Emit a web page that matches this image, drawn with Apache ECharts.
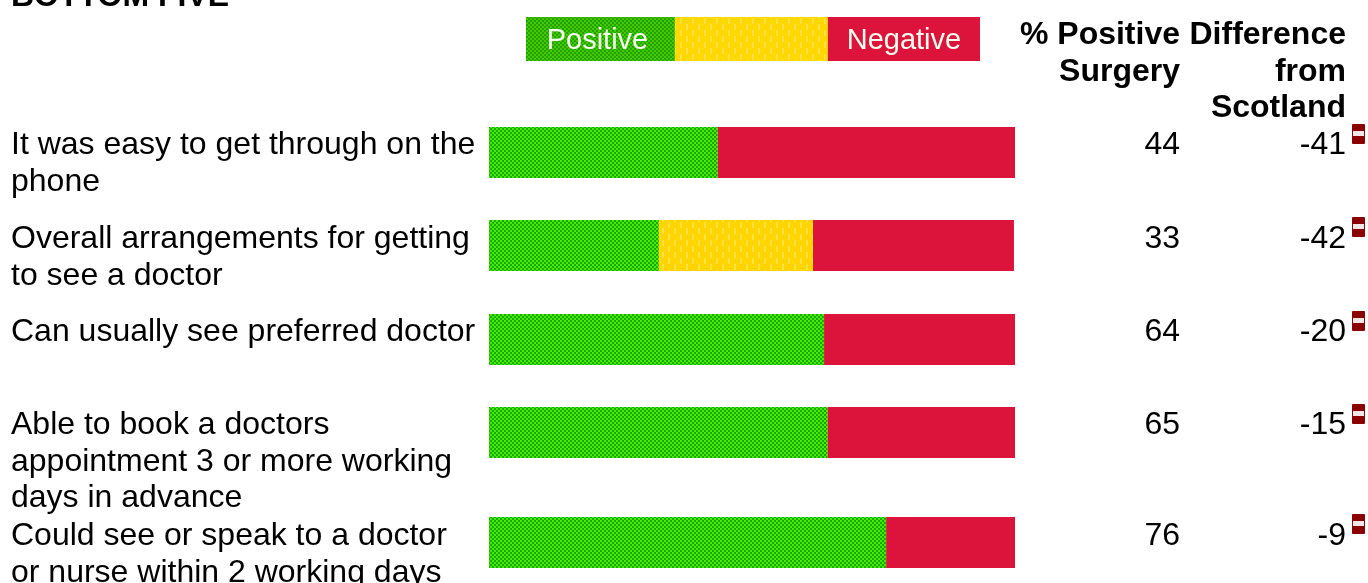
<!DOCTYPE html>
<html>
<head>
<meta charset="utf-8">
<style>
  html, body { margin: 0; padding: 0; background: #fff; }
  #chart { width: 1368px; height: 583px; }
</style>
<script src="https://cdn.jsdelivr.net/npm/echarts@6/dist/echarts.min.js"></script>
</head>
<body>
<div id="chart"></div>
<script>
const tableTitle = 'BOTTOM FIVE'
const questions = [
  ['It was easy to get through on the', 'phone'],
  ['Overall arrangements for getting', 'to see a doctor'],
  ['Can usually see preferred doctor'],
  ['Able to book a doctors', 'appointment 3 or more working', 'days in advance'],
  ['Could see or speak to a doctor', 'or nurse within 2 working days'],
]
const positive = [43.5, 32.3, 63.7, 64.4, 75.5]
const neutral = [0, 29.3, 0, 0, 0]
const negative = [56.5, 38.2, 36.3, 35.6, 24.5]
const percentPositive = [44, 33, 64, 65, 76]
const difference = [-41, -42, -20, -15, -9]
const legendNames = ['Positive', '', 'Negative']
const legendShares = [32.8, 33.7, 33.5]
const surgeryHeader = ['% Positive', 'Surgery']
const differenceHeader = ['Difference', 'from', 'Scotland']

// layout of the table, rows are not evenly spaced
const BAR_TOPS = [127, 220, 314, 407, 517]
const TEXT_TOPS = [145, 239, 332, 425, 536]
const BAR_LEFT = 489
const BAR_WIDTH = 526
const BAR_HEIGHT = 51
const LINE_HEIGHT = 36.7
const FONT = '"Liberation Sans", Arial, sans-serif'
const FONT_SIZE = 32

// small repeating tile, the reference bars are dithered
const makeTile = (w, h, draw) => {
  const c = document.createElement('canvas')
  c.width = w
  c.height = h
  draw(c.getContext('2d'))
  return { image: c, repeat: 'repeat' }
}
const checker = (light, dark) => makeTile(4, 4, (g) => {
  g.fillStyle = dark
  g.fillRect(0, 0, 4, 4)
  g.fillStyle = light
  g.fillRect(0, 0, 2, 2)
  g.fillRect(2, 2, 2, 2)
})
const dashes = (base, light) => makeTile(12, 12, (g) => {
  g.fillStyle = base
  g.fillRect(0, 0, 12, 12)
  g.fillStyle = light
  g.fillRect(2, 0, 2, 6)
  g.fillRect(8, 6, 2, 6)
})

const GREEN = checker('#44ee00', '#1ca800')
const YELLOW = dashes('#ffd400', '#ffe23c')
const RED = '#dc143c'
const LEGEND_GREEN = checker('#44c800', '#22a300')
const LEGEND_YELLOW = dashes('#ffd800', '#ffe040')
const rowColors = [GREEN, YELLOW, RED]
const legendColors = [LEGEND_GREEN, LEGEND_YELLOW, RED]

const grids = []
const xAxes = []
const yAxes = []
const series = []

const addGrid = (left, top, width, height) => {
  grids.push({ left, top, width, height })
  const i = grids.length - 1
  xAxes.push({ gridIndex: i, type: 'value', min: 0, max: 100, show: false })
  yAxes.push({ gridIndex: i, type: 'category', data: [''], show: false })
  return i
}

// one grid per table row
questions.forEach((q, i) => {
  const g = addGrid(BAR_LEFT, BAR_TOPS[i], BAR_WIDTH, BAR_HEIGHT)
  ;[positive, neutral, negative].forEach((values, k) => {
    series.push({
      type: 'bar',
      xAxisIndex: g,
      yAxisIndex: g,
      stack: 'row' + i,
      barWidth: '100%',
      silent: true,
      itemStyle: { color: rowColors[k] },
      data: [values[i]],
    })
  })
})

// legend strip above the bars
const lg = addGrid(526, 17, 454, 44)
legendShares.forEach((share, k) => {
  series.push({
    type: 'bar',
    xAxisIndex: lg,
    yAxisIndex: lg,
    stack: 'legend',
    barWidth: '100%',
    silent: true,
    itemStyle: { color: legendColors[k] },
    label: {
      show: legendNames[k] !== '',
      position: 'inside',
      offset: [k === 0 ? -3 : 0, 2],
      formatter: () => legendNames[k],
      color: '#f4fff0',
      fontFamily: FONT,
      fontSize: 29,
      textBorderWidth: 0,
    },
    data: [share],
  })
})

const text = (str, x, y, align, bold) => ({
  type: 'text',
  x,
  y,
  silent: true,
  style: {
    text: String(str),
    x: 0,
    y: 0,
    fill: '#000',
    font: (bold ? 'bold ' : '') + FONT_SIZE + 'px ' + FONT,
    textAlign: align,
    textVerticalAlign: 'middle',
  },
})

const graphics = [text(tableTitle, 11, -3, 'left', true)]
surgeryHeader.forEach((s, i) => graphics.push(text(s, 1180, 35 + i * LINE_HEIGHT, 'right', true)))
differenceHeader.forEach((s, i) => graphics.push(text(s, 1346, 35 + i * LINE_HEIGHT, 'right', true)))

questions.forEach((lines, i) => {
  lines.forEach((s, n) => graphics.push(text(s, 11, TEXT_TOPS[i] + n * LINE_HEIGHT, 'left', false)))
  graphics.push(text(percentPositive[i], 1180, TEXT_TOPS[i], 'right', false))
  graphics.push(text(difference[i], 1346, TEXT_TOPS[i], 'right', false))
  // "worse than Scotland" marker
  graphics.push({
    type: 'rect',
    silent: true,
    shape: { x: 1352, y: BAR_TOPS[i] - 3, width: 13, height: 20, r: 1 },
    style: { fill: '#8b0000' },
  })
  graphics.push({
    type: 'rect',
    silent: true,
    shape: { x: 1353, y: BAR_TOPS[i] + 4, width: 11, height: 5 },
    style: { fill: '#f3e6e6' },
  })
})

const chart = echarts.init(document.getElementById('chart'))
chart.setOption({
  animation: false,
  backgroundColor: '#fff',
  grid: grids,
  xAxis: xAxes,
  yAxis: yAxes,
  series,
  graphic: graphics,
})
</script>
</body>
</html>
